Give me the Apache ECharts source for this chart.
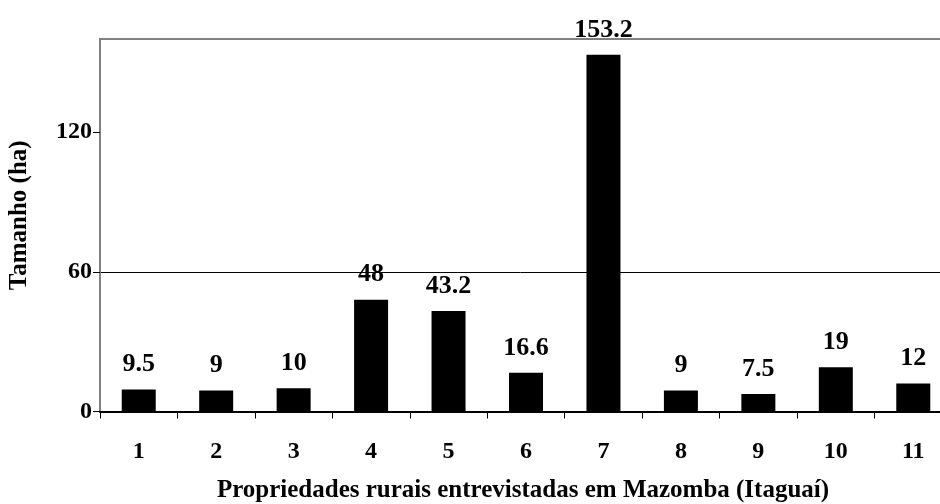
<!DOCTYPE html>
<html>
<head>
<meta charset="utf-8">
<script src="https://cdn.jsdelivr.net/npm/echarts@6/dist/echarts.min.js"></script>
<style>html,body{margin:0;padding:0;background:#fff}#c{width:940px;height:504px}</style>
</head>
<body>
<div id="c"></div>
<script>
var categories = ['1','2','3','4','5','6','7','8','9','10','11'];
var values = [9.5, 9, 10, 48, 43.2, 16.6, 153.2, 9, 7.5, 19, 12];
var yTicks = [0, 60, 120];
var xTitle = 'Propriedades rurais entrevistadas em Mazomba (Itaguaí)';
var yTitle = 'Tamanho (ha)';

var font = '"Liberation Serif", "Times New Roman", serif';
var chart = echarts.init(document.getElementById('c'), null, {renderer: 'canvas'});
chart.setOption({
  animation: false,
  backgroundColor: '#fff',
  grid: {left: 100, top: 39, right: -12, bottom: 92.5, containLabel: false, outerBoundsMode: 'none'},
  xAxis: [{
    type: 'category',
    data: categories,
    position: 'bottom',
    axisLine: {lineStyle: {color: '#000', width: 2}},
    axisTick: {show: true, length: 7, lineStyle: {color: '#000', width: 1}},
    axisLabel: {fontFamily: font, fontWeight: 'bold', fontSize: 24, color: '#000', margin: 28},
    name: xTitle,
    nameLocation: 'middle',
    nameGap: 67,
    nameTextStyle: {fontFamily: font, fontWeight: 'bold', fontSize: 25, color: '#000', padding: [0, 6, 0, 0]}
  }, {
    type: 'category',
    data: categories,
    position: 'top',
    axisLine: {show: true, lineStyle: {color: '#808080', width: 2}},
    axisTick: {show: false},
    axisLabel: {show: false}
  }],
  yAxis: {
    type: 'value',
    min: 0, max: 160, interval: 60,
    axisLine: {show: true, lineStyle: {color: '#808080', width: 2}},
    axisTick: {show: true, length: 7, customValues: yTicks, lineStyle: {color: '#000'}},
    axisLabel: {fontFamily: font, fontWeight: 'bold', fontSize: 24, color: '#000', margin: 8, customValues: yTicks},
    splitLine: {show: true, showMinLine: false, showMaxLine: false, lineStyle: {color: '#000', width: 1}},
    name: yTitle,
    nameLocation: 'middle',
    nameGap: 68,
    nameTextStyle: {fontFamily: font, fontWeight: 'bold', fontSize: 25, color: '#000', padding: [0, 0, 0, 20]}
  },
  series: [{
    type: 'bar',
    data: values,
    xAxisIndex: 0,
    barWidth: 34,
    itemStyle: {color: '#000'},
    label: {show: true, position: 'top', distance: 12, fontFamily: font, fontWeight: 'bold', fontSize: 26, color: '#000'}
  }]
});
</script>
</body>
</html>
